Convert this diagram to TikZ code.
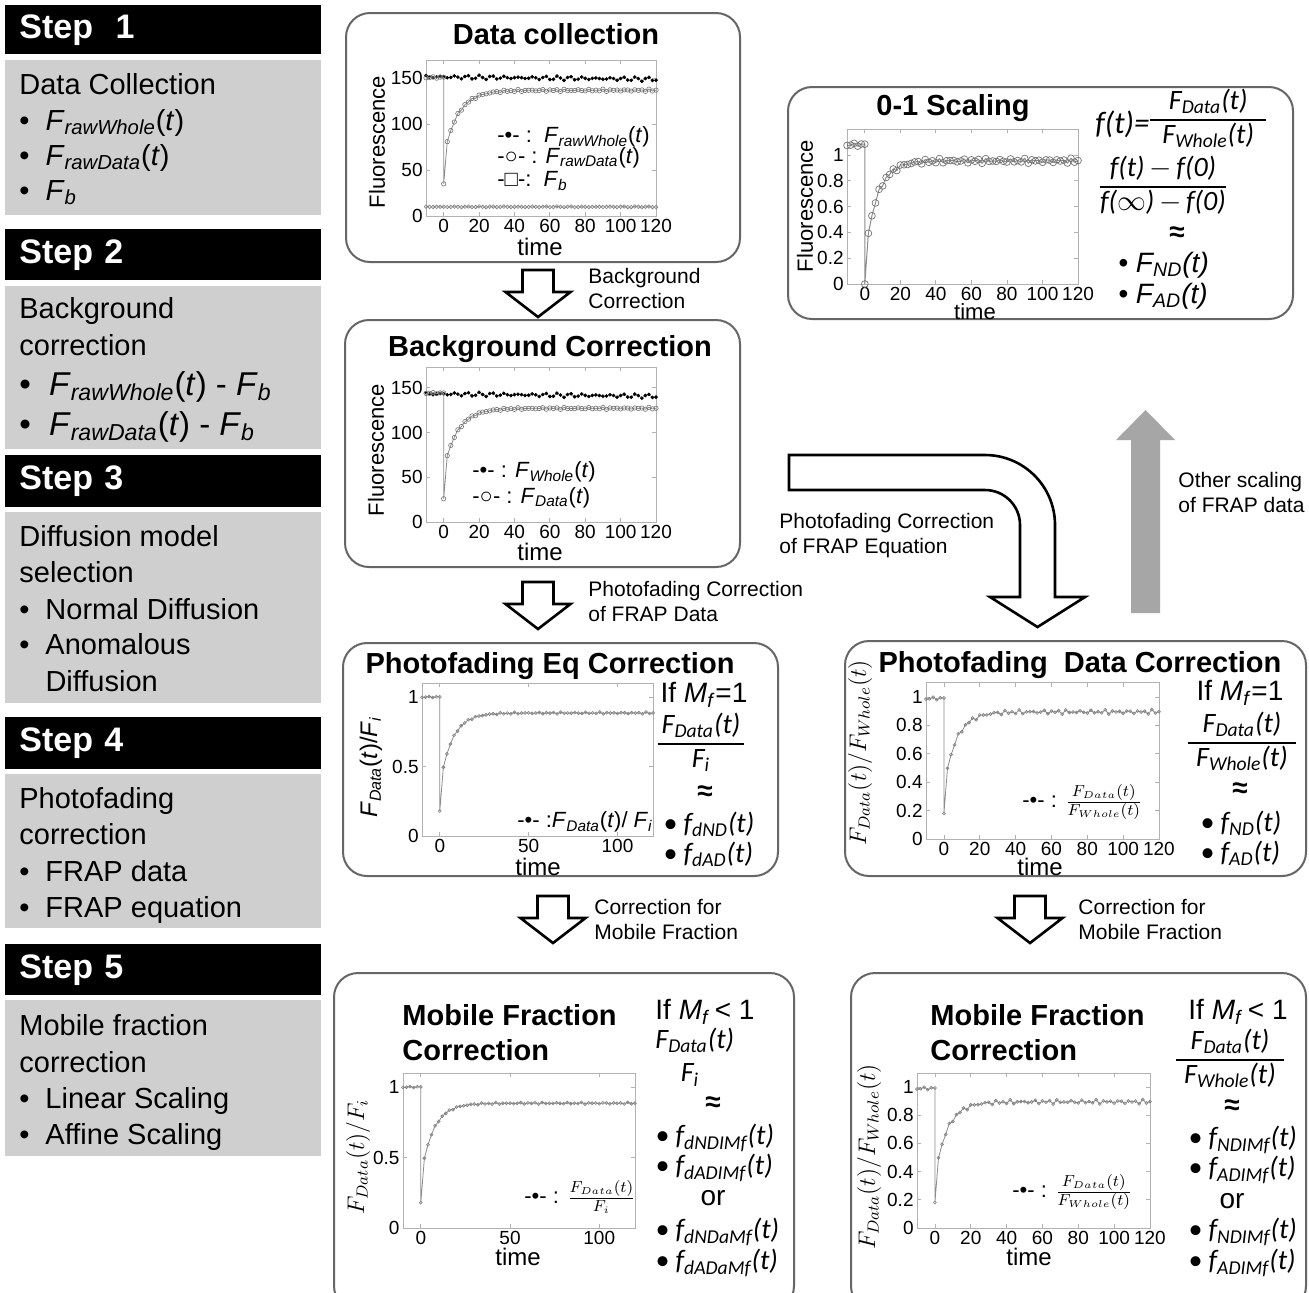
\documentclass[tikz,border=0pt]{standalone}
\usepackage{fontspec}
\setmainfont{Liberation Sans}
\newfontfamily\calfont{Carlito}
\usetikzlibrary{fit,calc,plotmarks}

\newcommand\Fsub[2]{\textit{#1}\textsubscript{\textit{#2}}}
\newcommand\ofT{(\textit{t})}
\newcommand\bul{\makebox[0.9em][l]{\textbullet}}
\newcommand\ffrac[3][0pt]{{\setlength\arrayrulewidth{0.8pt}\def\arraystretch{0.95}%
  \begin{tabular}{@{\hspace{#1}}c@{\hspace{#1}}}#2\\\hline#3\end{tabular}}}

% frame, ticks and tick labels of one small plot (data units)
% #1 name prefix, #2 y max, #3 x ticks, #4 y ticks
\newcommand\plotframe[4]{%
  \draw[plotbox] (-10,0) rectangle (120,#2);
  \foreach \tk [count=\nn] in {#3} {
    \draw[plotbox] (\tk,0) -- ++(0pt,2pt) (\tk,#2) -- ++(0pt,-2pt);
    \node[ticklab, anchor=north] (#1x\nn) at (\tk,0) {\tk};}
  \foreach \tk [count=\nn] in {#4} {
    \draw[plotbox] (-10,\tk) -- ++(2pt,0pt) (120,\tk) -- ++(-2pt,0pt);
    \node[ticklab, anchor=east] (#1y\nn) at (-10,\tk) {\tk};}
}
% recovery curve: #2 pre-bleach, #3 bleach, #4 plateau, #5 amplitude, #6 tau, #7 noise
\newcommand\recovery[7][]{%
  \draw[#1] plot[domain=-10:0, samples=6] (\x,{#2+(#7)*sin(\x*113+20)})
    -- plot coordinates {(0,#3)}
    -- plot[domain=2:120, samples=60]
       (\x,{#4-(#5)*exp(-(\x)/#6)+(#7)*(sin(\x*97)+0.7*sin(\x*53+40))});}
% flat series: #2 level, #3 slope, #4 noise
\newcommand\flatline[4][]{%
  \draw[#1] plot[domain=-10:120, samples=66]
    (\x,{#2+(#3)*(\x)+(#4)*(sin(\x*131)+0.6*sin(\x*57+15))});}

\begin{document}
\begin{tikzpicture}[
    x=0.5pt, y=-0.5pt,
    stephead/.style={fill=black, text=white, anchor=north west, text width=144pt,
      inner xsep=7pt, inner ysep=0pt, align=left, font=\fontsize{17}{20}\selectfont\bfseries},
    stepbody/.style={fill=black!19, anchor=north west, minimum width=158pt, inner sep=0pt},
    bodytxt/.style={anchor=base west, inner sep=0pt, font=\fontsize{14.5}{17}\selectfont},
    bigtxt/.style={anchor=base west, inner sep=0pt, font=\fontsize{16.5}{19}\selectfont},
    panel/.style={draw=black!60, line width=1pt, rounded corners=12pt, inner sep=0pt},
    title/.style={anchor=base, inner sep=0pt, font=\fontsize{14.5}{17}\selectfont\bfseries},
    steplabel/.style={anchor=west, align=left, inner sep=0pt, font=\fontsize{10.5}{12.5}\selectfont},
    ticklab/.style={inner sep=1.5pt, font=\fontsize{9.5}{11}\selectfont},
    axlab/.style={inner sep=0pt, font=\fontsize{11}{13}\selectfont},
    timelab/.style={inner sep=0pt, font=\fontsize{12}{14}\selectfont},
    legend/.style={anchor=west, inner sep=0pt, font=\fontsize{11}{13}\selectfont},
    eqtxt/.style={inner sep=0pt, font=\calfont\itshape\fontsize{14}{17}\selectfont},
    eqsans/.style={inner sep=0pt, font=\itshape\fontsize{14}{17}\selectfont},
    equp/.style={inner sep=0pt, font=\fontsize{14}{17}\selectfont},
    plotbox/.style={draw=black!30, line width=0.4pt},
    wholeline/.style={draw=black!55, line width=0.3pt, mark=*, mark size=0.75pt,
      mark options={draw=black, fill=black}},
    dataline/.style={draw=black!45, line width=0.4pt, mark=o, mark size=1.1pt,
      mark options={draw=black!55, line width=0.3pt}},
    bgline/.style={draw=black!40, line width=0.3pt, mark=o, mark size=0.9pt,
      mark options={draw=black!50}},
    bigline/.style={draw=black!45, line width=0.5pt, mark=o, mark size=1.7pt,
      mark options={draw=black!55, line width=0.35pt}},
    smallline/.style={draw=black!45, line width=0.4pt, mark=o, mark size=0.75pt,
      mark options={draw=black!50, line width=0.3pt}},
    hollow/.style={draw=black, line width=1.3pt, fill=white, line join=miter},
    hollowdown/.pic={\draw[hollow] (-15.5,0) -- (15.5,0) -- (15.5,22) -- (32.5,22)
      -- (0,47) -- (-32.5,22) -- (-15.5,22) -- cycle;}
  ]
  \useasboundingbox (0,0) rectangle (1309,1292);
  \fill[white] (0,0) rectangle (1309,1292);

  % ---- steps column
  \node[stephead, minimum height=24.5pt] (step1) at (5,5) {Step\ \ 1};
  \node[stepbody, minimum height=77.5pt] (body1) at (5,60) {};
  \node[stephead, minimum height=25.5pt] (step2) at (5,229) {Step 2};
  \node[stepbody, minimum height=81.5pt] (body2) at (5,286) {};
  \node[stephead, minimum height=26pt] (step3) at (5,455) {Step 3};
  \node[stepbody, minimum height=95.5pt] (body3) at (5,512) {};
  \node[stephead, minimum height=26pt] (step4) at (5,717) {Step 4};
  \node[stepbody, minimum height=77pt] (body4) at (5,774) {};
  \node[stephead, minimum height=25.5pt] (step5) at (5,944) {Step 5};
  \node[stepbody, minimum height=78pt] (body5) at (5,1000) {};

  \node[bodytxt] (b1a) at (19,94) {Data Collection};
  \node[bodytxt] (b1b) at (19,130) {\bul\Fsub{F}{rawWhole}\ofT};
  \node[bodytxt] (b1c) at (19,165) {\bul\Fsub{F}{rawData}\ofT};
  \node[bodytxt] (b1d) at (19,200) {\bul\Fsub{F}{b}};

  \node[bodytxt] (b2a) at (19,318) {Background};
  \node[bodytxt] (b2b) at (19,355) {correction};
  \node[bigtxt] (b2c) at (19,395) {\bul\Fsub{F}{rawWhole}\ofT\ - \Fsub{F}{b}};
  \node[bigtxt] (b2d) at (19,435) {\bul\Fsub{F}{rawData}\ofT\ - \Fsub{F}{b}};

  \node[bodytxt] (b3a) at (19,546) {Diffusion model};
  \node[bodytxt] (b3b) at (19,582) {selection};
  \node[bodytxt] (b3c) at (19,619) {\bul Normal Diffusion};
  \node[bodytxt] (b3d) at (19,654) {\bul Anomalous};
  \node[bodytxt] (b3e) at (19,691) {\makebox[0.9em]{}Diffusion};

  \node[bodytxt] (b4a) at (19,808) {Photofading};
  \node[bodytxt] (b4b) at (19,844) {correction};
  \node[bodytxt] (b4c) at (19,881) {\bul FRAP data};
  \node[bodytxt] (b4d) at (19,917) {\bul FRAP equation};

  \node[bodytxt] (b5a) at (19,1035) {Mobile fraction};
  \node[bodytxt] (b5b) at (19,1072) {correction};
  \node[bodytxt] (b5c) at (19,1108) {\bul Linear Scaling};
  \node[bodytxt] (b5d) at (19,1144) {\bul Affine Scaling};

  % ---- panels
  \node[panel, fit={(346,13) (740,262)}] (pCollect) {};
  \node[panel, fit={(345,320) (740,567)}] (pBack) {};
  \node[panel, fit={(788,87) (1293,319)}] (pScale) {};
  \node[panel, fit={(343,643) (778,876)}] (pEq) {};
  \node[panel, fit={(845,641) (1306,876)}] (pData) {};
  \node[panel, fit={(334,973) (794,1310)}] (pMobA) {};
  \node[panel, fit={(851,973) (1306,1310)}] (pMobB) {};

  \node[title] (tCollect) at (556,44) {Data collection};
  \node[title] (tBack) at (550,356) {Background Correction};
  \node[title] (tScale) at (953,115) {0-1 Scaling};
  \node[title] (tEq) at (550,673) {Photofading Eq Correction};
  \node[title] (tData) at (1080,672) {Photofading\ \ Data Correction};
  \node[title, anchor=base west] (tMobA1) at (402,1025) {Mobile Fraction};
  \node[title, anchor=base west] (tMobA2) at (402,1060) {Correction};
  \node[title, anchor=base west] (tMobB1) at (930,1025) {Mobile Fraction};
  \node[title, anchor=base west] (tMobB2) at (930,1060) {Correction};

  % ---- raw data
  \begin{scope}[shift={(443.7,216)}, x=0.8846pt, y=0.4588pt]
    \plotframe{c}{170}{0,20,...,120}{0,50,100,150}
    \flatline[bgline]{10}{0}{0.3}
    \flatline[wholeline]{151.5}{-0.02}{1.5}
    \recovery[dataline]{151}{35}{137}{72}{8}{0.8}
  \end{scope}
  \node[axlab, rotate=90] (cY) at (377,142) {Fluorescence};
  \node[timelab] (cT) at (540,247) {time};
  \node[legend] (lgW) at (497,137) {-\textbullet- :\ \ \Fsub{F}{rawWhole}\ofT};
  \node[legend] (lgD) at (497,158) {-○- : \Fsub{F}{rawData}\ofT};
  \node[legend] (lgB) at (497,181) {-□-:\ \ \Fsub{F}{b}};

  % ---- background corrected
  \begin{scope}[shift={(443.7,522)}, x=0.8846pt, y=0.4475pt]
    \plotframe{b}{173}{0,20,...,120}{0,50,100,150}
    \flatline[wholeline]{143}{-0.02}{1.5}
    \recovery[dataline]{144}{26}{127}{68}{8}{0.7}
  \end{scope}
  \node[axlab, rotate=90] (bY) at (376,450) {Fluorescence};
  \node[timelab] (bT) at (540,552) {time};
  \node[legend] (lgW2) at (472,472) {-\textbullet- : \Fsub{F}{Whole}\ofT};
  \node[legend] (lgD2) at (472,498) {-○- : \Fsub{F}{Data}\ofT};

  % ---- 0-1 scaling
  \begin{scope}[shift={(864.8,284)}, x=0.8885pt, y=64.5pt]
    \plotframe{s}{1.2}{0,20,...,120}{0,0.2,0.4,0.6,0.8,1}
    \recovery[bigline]{1.08}{0}{0.955}{0.75}{7}{0.012}
  \end{scope}
  \node[axlab, rotate=90] (sY) at (805,206) {Fluorescence};
  \node[timelab, font=\fontsize{11}{13}\selectfont] (sT) at (975,312) {time};
  \node[eqtxt, anchor=west, font=\calfont\itshape\fontsize{15.5}{18}\selectfont] (fDef) at (1095,124) {f(t)=};
  \node[eqtxt, anchor=west] (fRatio) at (1150,120)
    {\ffrac[6pt]{F\textsubscript{Data}(t)}{F\textsubscript{Whole}(t)}};
  \node[eqtxt] (fNorm) at (1163,187) {\ffrac{f(t)\,$-$\,f(0)}{f($\infty$)\,$-$\,f(0)}};
  \node[equp, font=\bfseries\fontsize{14}{17}\selectfont] (fAp) at (1177,234) {≈};
  \node[eqsans, anchor=west] (fND) at (1118,265) {\textbullet\ F\textsubscript{ND}(\textit{t})};
  \node[eqsans, anchor=west] (fAD) at (1118,296) {\textbullet\ F\textsubscript{AD}(\textit{t})};

  % ---- photofading, equation side
  \begin{scope}[shift={(439.8,836)}, x=0.8885pt, y=69.5pt]
    \plotframe{e}{1.1}{0,50,100}{0,0.5,1}
    \recovery[smallline]{1}{0.18}{0.885}{0.52}{7}{0.004}
  \end{scope}
  \node[axlab, rotate=90, font=\fontsize{12}{14}\selectfont] (eY) at (371,767) {\Fsub{F}{Data}\ofT/\Fsub{F}{i}};
  \node[timelab] (eT) at (538,867) {time};
  \node[legend] (lgE) at (517,822) {-\textbullet- :\Fsub{F}{Data}\ofT/ \Fsub{F}{i}};
  \node[equp] (eIf) at (704,695) {If \textit{M}\textsubscript{\textit{f}}=1};
  \node[eqtxt] (eFrac) at (701,744) {\ffrac[2pt]{F\textsubscript{Data}(t)}{F\textsubscript{i}}};
  \node[equp, font=\bfseries\fontsize{14}{17}\selectfont] (eAp) at (705,793) {≈};
  \node[eqtxt, anchor=west] (eND) at (663,824) {\textbullet\ f\textsubscript{dND}(t)};
  \node[eqtxt, anchor=west] (eAD) at (663,854) {\textbullet\ f\textsubscript{dAD}(t)};

  % ---- photofading, data side
  \begin{scope}[shift={(943.9,839)}, x=0.896pt, y=71pt]
    \plotframe{d}{1.1}{0,20,...,120}{0,0.2,0.4,0.6,0.8,1}
    \recovery[smallline]{0.99}{0.18}{0.895}{0.53}{7}{0.01}
  \end{scope}
  \node[axlab, rotate=90, font=\fontsize{12}{14}\selectfont] (dY) at (860,753) {$F_{Data}(t)/F_{Whole}(t)$};
  \node[timelab] (dT) at (1040,867) {time};
  \node[legend] (lgF) at (1022,802) {-\textbullet- : $\frac{F_{Data}(t)}{F_{Whole}(t)}$};
  \node[equp] (dIf) at (1240,693) {If \textit{M}\textsubscript{\textit{f}}=1};
  \node[eqtxt] (dFrac) at (1242,743) {\ffrac[4pt]{F\textsubscript{Data}(t)}{F\textsubscript{Whole}(t)}};
  \node[equp, font=\bfseries\fontsize{14}{17}\selectfont] (dAp) at (1240,790) {≈};
  \node[eqtxt, anchor=west] (dND) at (1200,823) {\textbullet\ f\textsubscript{ND}(t)};
  \node[eqtxt, anchor=west] (dAD) at (1200,853) {\textbullet\ f\textsubscript{AD}(t)};

  % ---- mobile fraction, equation side
  \begin{scope}[shift={(420.8,1228)}, x=0.8923pt, y=70.5pt]
    \plotframe{m}{1.1}{0,50,100}{0,0.5,1}
    \recovery[smallline]{1}{0.18}{0.885}{0.52}{7}{0.004}
  \end{scope}
  \node[axlab, rotate=90, font=\fontsize{12}{14}\selectfont] (mY) at (358,1157) {$F_{Data}(t)/F_{i}$};
  \node[timelab] (mT) at (518,1257) {time};
  \node[legend] (lgM) at (524,1197) {-\textbullet- : $\frac{F_{Data}(t)}{F_{i}}$};
  \node[equp, anchor=west] (mIf) at (655,1012) {If \textit{M}\textsubscript{\textit{f}}\,< 1};
  \node[eqtxt, anchor=west] (mNum) at (655,1040) {F\textsubscript{Data}(t)};
  \node[eqtxt] (mDen) at (690,1075) {F\textsubscript{i}};
  \node[equp, font=\bfseries\fontsize{14}{17}\selectfont] (mAp) at (713,1104) {≈};
  \node[eqtxt, anchor=west] (m1) at (655,1138) {\textbullet\ f\textsubscript{dNDIMf}(t)};
  \node[eqtxt, anchor=west] (m2) at (655,1168) {\textbullet\ f\textsubscript{dADIMf}(t)};
  \node[equp] (mOr) at (713,1198) {or};
  \node[eqtxt, anchor=west] (m3) at (655,1232) {\textbullet\ f\textsubscript{dNDaMf}(t)};
  \node[eqtxt, anchor=west] (m4) at (655,1263) {\textbullet\ f\textsubscript{dADaMf}(t)};

  % ---- mobile fraction, data side
  \begin{scope}[shift={(934.9,1228)}, x=0.896pt, y=70.5pt]
    \plotframe{n}{1.1}{0,20,...,120}{0,0.2,0.4,0.6,0.8,1}
    \recovery[smallline]{0.99}{0.18}{0.895}{0.53}{7}{0.01}
  \end{scope}
  \node[axlab, rotate=90, font=\fontsize{12}{14}\selectfont] (nY) at (869,1157) {$F_{Data}(t)/F_{Whole}(t)$};
  \node[timelab] (nT) at (1029,1257) {time};
  \node[legend] (lgN) at (1012,1192) {-\textbullet- : $\frac{F_{Data}(t)}{F_{Whole}(t)}$};
  \node[equp, anchor=west] (nIf) at (1188,1012) {If \textit{M}\textsubscript{\textit{f}}\,< 1};
  \node[eqtxt] (nFrac) at (1230,1060) {\ffrac[4pt]{F\textsubscript{Data}(t)}{F\textsubscript{Whole}(t)}};
  \node[equp, font=\bfseries\fontsize{14}{17}\selectfont] (nAp) at (1232,1107) {≈};
  \node[eqtxt, anchor=west] (n1) at (1188,1140) {\textbullet\ f\textsubscript{NDIMf}(t)};
  \node[eqtxt, anchor=west] (n2) at (1188,1170) {\textbullet\ f\textsubscript{ADIMf}(t)};
  \node[equp] (nOr) at (1232,1201) {or};
  \node[eqtxt, anchor=west] (n3) at (1188,1232) {\textbullet\ f\textsubscript{NDIMf}(t)};
  \node[eqtxt, anchor=west] (n4) at (1188,1263) {\textbullet\ f\textsubscript{ADIMf}(t)};

  % ---- block arrows and their labels
  \pic (aBack) at (538,270) {hollowdown};
  \pic (aFade) at (538,582) {hollowdown};
  \pic (aMobA) at (553,896) {hollowdown};
  \pic (aMobB) at (1030,896) {hollowdown};
  \draw[hollow] (789,455) -- (985,455) arc[start angle=-90, end angle=0, radius=70]
    -- (1055,597) -- (1085,597) -- (1037.5,627) -- (990,597) -- (1020,597)
    -- (1020,525) arc[start angle=0, end angle=-90, radius=35] -- (789,490) -- cycle;
  \fill[black!35] (1131,613) -- (1131,440) -- (1116,440) -- (1145.5,410)
    -- (1175,440) -- (1160,440) -- (1160,613) -- cycle;

  \node[steplabel] (lBack) at (588,288) {Background\\Correction};
  \node[steplabel] (lFadeData) at (588,601) {Photofading Correction\\of FRAP Data};
  \node[steplabel] (lFadeEq) at (779,536) {Photofading Correction\\of FRAP Equation};
  \node[steplabel] (lOther) at (1178,492) {Other scaling\\of FRAP data};
  \node[steplabel] (lMobA) at (594,919) {Correction for\\Mobile Fraction};
  \node[steplabel] (lMobB) at (1078,919) {Correction for\\Mobile Fraction};
\end{tikzpicture}
\end{document}
